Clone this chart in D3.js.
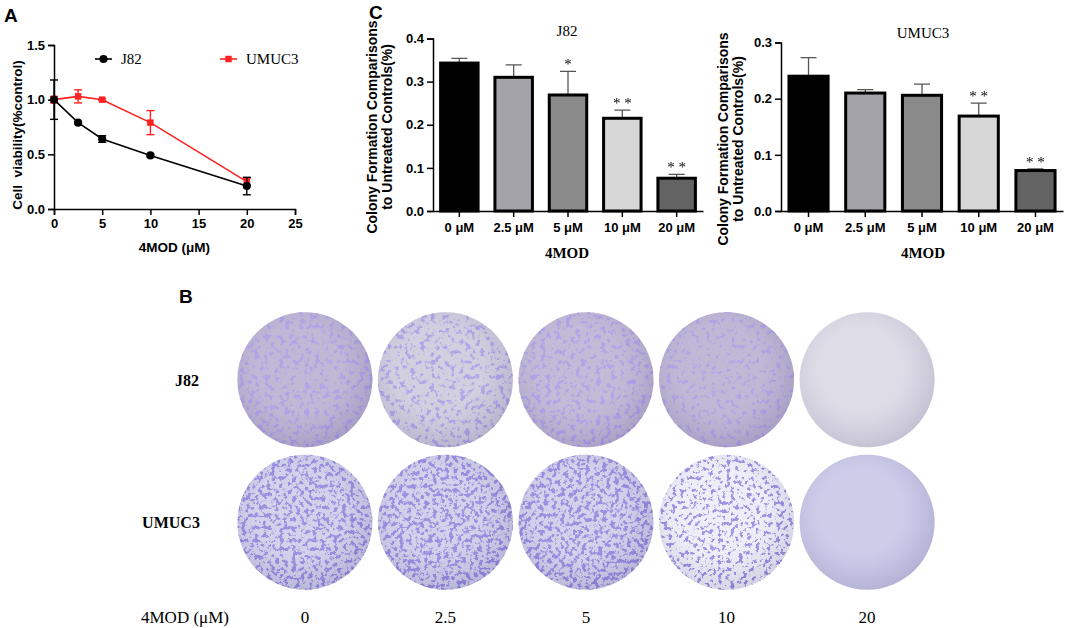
<!DOCTYPE html>
<html lang="en">
  <head>
    <meta charset="UTF-8" />
    <title>4MOD viability and colony formation</title>
    <style>
      body {
        margin: 0;
        background: #fff;
      }
      .sans {
        font-family: "Liberation Sans", Arial, sans-serif;
        font-weight: bold;
      }
      .serif {
        font-family: "Liberation Serif", "Times New Roman", serif;
      }
      .axis path,
      .axis line {
        stroke: #000;
        stroke-width: 1.5;
      }
      .axis text {
        font-family: "Liberation Sans", Arial, sans-serif;
        font-weight: bold;
        font-size: 13px;
        fill: #000;
      }
    </style>
  </head>
  <body>
    <script src="https://d3js.org/d3.v7.min.js"></script>
    <script>
      // panel A : cell viability
      const doseA = [0, 2.5, 5, 10, 20];
      const j82Viab = [1.0, 0.79, 0.64, 0.49, 0.21];
      const j82ViabErr = [0.18, 0.01, 0.03, 0.01, 0.08];
      const umuc3Viab = [1.0, 1.03, 1.0, 0.79, 0.25];
      const umuc3ViabErr = [0.03, 0.06, 0.01, 0.11, 0.03];

      // panel C : colony formation
      const doseC = ["0 μM", "2.5 μM", "5 μM", "10 μM", "20 μM"];
      const j82Colony = [0.343, 0.31, 0.269, 0.215, 0.076];
      const j82ColonyErr = [0.011, 0.029, 0.055, 0.019, 0.009];
      const j82Stars = ["", "", "*", "* *", "* *"];
      const umuc3Colony = [0.24, 0.21, 0.206, 0.169, 0.072];
      const umuc3ColonyErr = [0.033, 0.006, 0.02, 0.023, 0.003];
      const umuc3Stars = ["", "", "", "* *", "* *"];
      const barFill = ["#000000", "#a4a3a9", "#8a8a8a", "#d7d7d7", "#636363"];

      // panel B : plates (estimated colony coverage / background stain)
      const plateDoses = ["0", "2.5", "5", "10", "20"];
      const plateLines = ["J82", "UMUC3"];
      const j82Density = [0.5, 0.45, 0.5, 0.15, 0.0];
      const umuc3Density = [0.75, 0.85, 0.85, 0.45, 0.0];
      const j82Stain = [0.65, 0.3, 0.6, 0.65, 0.1];
      const umuc3Stain = [0.55, 0.55, 0.55, 0.05, 0.65];

      const svg = d3
        .select("body")
        .append("svg")
        .attr("width", 1065)
        .attr("height", 628);

      // panel letters
      svg
        .selectAll(".panel-letter")
        .data([
          ["A", 4, 22],
          ["C", 369, 19],
          ["B", 179, 303],
        ])
        .join("text")
        .attr("class", "sans")
        .attr("font-size", 19)
        .attr("x", (d) => d[1])
        .attr("y", (d) => d[2])
        .text((d) => d[0]);

      // ---------- panel A ----------
      const xA = d3.scaleLinear().domain([0, 25]).range([54, 295]);
      const yA = d3.scaleLinear().domain([0, 1.5]).range([209, 45]);

      const gA = svg.append("g");

      gA.append("g")
        .attr("class", "axis")
        .attr("transform", `translate(0, ${yA(0)})`)
        .call(d3.axisBottom(xA).tickValues([0, 5, 10, 15, 20, 25]).tickSize(6).tickPadding(4));

      gA.append("g")
        .attr("class", "axis")
        .attr("transform", `translate(${xA(0)}, 0)`)
        .call(
          d3
            .axisLeft(yA)
            .tickValues([0, 0.5, 1, 1.5])
            .tickFormat(d3.format(".1f"))
            .tickSize(6)
            .tickPadding(3)
        );

      gA.append("text")
        .attr("class", "sans")
        .attr("font-size", 13.5)
        .attr("text-anchor", "middle")
        .attr("transform", `translate(22, ${(yA(0) + yA(1.5)) / 2 + 8}) rotate(-90)`)
        .attr("xml:space", "preserve")
        .text("Cell  viability(%control)");

      gA.append("text")
        .attr("class", "sans")
        .attr("font-size", 13.5)
        .attr("text-anchor", "middle")
        .attr("x", xA(12.5))
        .attr("y", 252)
        .text("4MOD (μM)");

      const seriesA = [
        { name: "J82", color: "#000", vals: j82Viab, err: j82ViabErr, shape: "circle" },
        { name: "UMUC3", color: "#ff2222", vals: umuc3Viab, err: umuc3ViabErr, shape: "square" },
      ];
      const lineA = d3
        .line()
        .x((d) => xA(d[0]))
        .y((d) => yA(d[1]));
      const symbolOf = (s) =>
        d3.symbol(s.shape === "circle" ? d3.symbolCircle : d3.symbolSquare, s.shape === "circle" ? 52 : 42);

      // draw UMUC3 first so J82 sits on top
      seriesA
        .slice()
        .reverse()
        .forEach((s) => {
          const pts = doseA.map((x, i) => [x, s.vals[i], s.err[i]]);
          const g = gA.append("g");
          g.append("path")
            .attr("d", lineA(pts))
            .attr("fill", "none")
            .attr("stroke", s.color)
            .attr("stroke-width", 1.6);
          const eb = g.selectAll(".eb").data(pts).join("g");
          eb.append("line")
            .attr("x1", (d) => xA(d[0]))
            .attr("x2", (d) => xA(d[0]))
            .attr("y1", (d) => yA(d[1] - d[2]))
            .attr("y2", (d) => yA(d[1] + d[2]))
            .attr("stroke", s.color)
            .attr("stroke-width", 1.4);
          [-1, 1].forEach((sign) =>
            eb
              .append("line")
              .attr("x1", (d) => xA(d[0]) - 4)
              .attr("x2", (d) => xA(d[0]) + 4)
              .attr("y1", (d) => yA(d[1] + sign * d[2]))
              .attr("y2", (d) => yA(d[1] + sign * d[2]))
              .attr("stroke", s.color)
              .attr("stroke-width", 1.4)
          );
          g.selectAll(".pt")
            .data(pts)
            .join("path")
            .attr("d", symbolOf(s))
            .attr("transform", (d) => `translate(${xA(d[0])}, ${yA(d[1])})`)
            .attr("fill", s.color);
        });

      // legend A
      const legA = gA
        .selectAll(".leg")
        .data(seriesA)
        .join("g")
        .attr("transform", (d, i) => `translate(${[95, 220][i]}, 59)`);
      legA.append("line")
        .attr("x1", 0)
        .attr("x2", 17)
        .attr("stroke", (d) => d.color)
        .attr("stroke-width", 1.6);
      legA.append("path")
        .attr("d", (d) => symbolOf(d)())
        .attr("transform", "translate(8.5, 0)")
        .attr("fill", (d) => d.color);
      legA.append("text")
        .attr("class", "serif")
        .attr("font-size", 15)
        .attr("x", 26)
        .attr("dy", "0.35em")
        .text((d) => d.name);

      // ---------- panel C ----------
      function colonyChart(cfg) {
        const g = svg.append("g");
        const x = d3.scaleBand().domain(doseC).range(cfg.xr).paddingInner(0.31).paddingOuter(0.14);
        const y = d3.scaleLinear().domain([0, cfg.ymax]).range([cfg.y0, cfg.ytop]);

        g.append("g")
          .attr("class", "axis")
          .attr("transform", `translate(0, ${y(0)})`)
          .call(d3.axisBottom(x).tickSize(6).tickPadding(6).tickSizeOuter(0));

        g.append("g")
          .attr("class", "axis")
          .attr("transform", `translate(${cfg.xr[0]}, 0)`)
          .call(
            d3
              .axisLeft(y)
              .tickValues(d3.range(0, cfg.ymax + 0.001, 0.1))
              .tickFormat(d3.format(".1f"))
              .tickSize(6)
              .tickPadding(3)
          );

        const data = doseC.map((d, i) => ({ dose: d, v: cfg.vals[i], e: cfg.err[i], star: cfg.stars[i], fill: barFill[i] }));

        g.selectAll(".err")
          .data(data)
          .join("path")
          .attr("d", (d) => {
            const cx = x(d.dose) + x.bandwidth() / 2;
            const yt = y(d.v + d.e);
            return `M${cx},${y(d.v)}V${yt}M${cx - 8},${yt}H${cx + 8}`;
          })
          .attr("fill", "none")
          .attr("stroke", "#555")
          .attr("stroke-width", 1.3);

        g.selectAll(".bar")
          .data(data)
          .join("rect")
          .attr("x", (d) => x(d.dose))
          .attr("y", (d) => y(d.v))
          .attr("width", x.bandwidth())
          .attr("height", (d) => y(0) - y(d.v))
          .attr("fill", (d) => d.fill)
          .attr("stroke", "#000")
          .attr("stroke-width", 3);

        g.selectAll(".star")
          .data(data.filter((d) => d.star))
          .join("text")
          .attr("class", "serif")
          .attr("font-size", 15)
          .attr("fill", "#000")
          .attr("opacity", 0.99)
          .attr("text-anchor", "middle")
          .attr("x", (d) => x(d.dose) + x.bandwidth() / 2)
          .attr("y", (d) => y(d.v + d.e) - 2)
          .attr("xml:space", "preserve")
          .text((d) => d.star);

        g.append("text")
          .attr("class", "serif")
          .attr("font-size", 15)
          .attr("text-anchor", "middle")
          .attr("x", cfg.titleX)
          .attr("y", cfg.titleY)
          .text(cfg.title);

        g.append("text")
          .attr("class", "serif")
          .attr("font-weight", "bold")
          .attr("font-size", 15)
          .attr("text-anchor", "middle")
          .attr("x", cfg.titleX)
          .attr("y", y(0) + 47)
          .text("4MOD");

        const yt = g
          .append("text")
          .attr("class", "sans")
          .attr("font-size", 14)
          .attr("text-anchor", "middle")
          .attr("transform", `translate(${cfg.ylabX}, ${cfg.ylabY}) rotate(-90)`);
        yt.append("tspan").attr("x", 0).attr("y", 0).text("Colony Formation Comparisons");
        yt.append("tspan").attr("x", 0).attr("y", 15).text("to Untreated Controls(%)");
      }

      colonyChart({
        xr: [433, 703],
        y0: 211,
        ytop: 38.5,
        ymax: 0.4,
        vals: j82Colony,
        err: j82ColonyErr,
        stars: j82Stars,
        title: "J82",
        titleX: 567,
        titleY: 36,
        ylabX: 377,
        ylabY: 127,
      });

      colonyChart({
        xr: [781, 1063],
        y0: 211,
        ytop: 42.5,
        ymax: 0.3,
        vals: umuc3Colony,
        err: umuc3ColonyErr,
        stars: umuc3Stars,
        title: "UMUC3",
        titleX: 923,
        titleY: 38,
        ylabX: 728,
        ylabY: 139,
      });

      // ---------- panel B : plates ----------
      const xB = d3.scaleBand().domain(plateDoses).range([236, 936]).paddingInner(0.02);
      const yB = d3.scaleBand().domain(plateLines).range([310, 592]).paddingInner(0.02);
      const plateR = 67.5;

      const bgScale = {
        J82: d3.interpolateRgb("#e0dfe6", "#a298c6"),
        UMUC3: d3.interpolateRgb("#eef0f8", "#b2b0dc"),
      };
      const dotColor = { J82: "#6450cc", UMUC3: "#4234b8" };

      const plates = [];
      plateLines.forEach((ln) => {
        const dens = ln === "J82" ? j82Density : umuc3Density;
        const stain = ln === "J82" ? j82Stain : umuc3Stain;
        plateDoses.forEach((ds, i) => plates.push({ line: ln, dose: ds, dens: dens[i], stain: stain[i], id: `${ln}-${i}` }));
      });

      const defs = svg.append("defs");

      // edge shading for the dishes
      const shade = defs.append("radialGradient").attr("id", "shade").attr("cx", "0.45").attr("cy", "0.42").attr("r", "0.62");
      shade.append("stop").attr("offset", "0.5").attr("stop-color", "#fff").attr("stop-opacity", 0.1);
      shade.append("stop").attr("offset", "1").attr("stop-color", "#3a2c70").attr("stop-opacity", 0.16);

      // speckle texture standing in for the stained colonies
      plates.forEach((p, k) => {
        const f = defs
          .append("filter")
          .attr("id", `spk-${p.id}`)
          .attr("x", 0)
          .attr("y", 0)
          .attr("width", 1)
          .attr("height", 1);
        f.append("feTurbulence")
          .attr("type", "fractalNoise")
          .attr("baseFrequency", p.line === "J82" ? 0.2 : 0.24)
          .attr("numOctaves", 3)
          .attr("seed", k * 7 + 3)
          .attr("result", "noise");
        const cut = 0.6 - 0.12 * p.dens;
        const c = d3.rgb(dotColor[p.line]);
        f.append("feColorMatrix")
          .attr("in", "noise")
          .attr("type", "matrix")
          .attr(
            "values",
            `0 0 0 0 ${c.r / 255} 0 0 0 0 ${c.g / 255} 0 0 0 0 ${c.b / 255} 9 0 0 0 ${-9 * cut}`
          )
          .attr("result", "spots");
        f.append("feComposite").attr("in", "spots").attr("in2", "SourceGraphic").attr("operator", "in");
      });

      const plateG = svg
        .append("g")
        .selectAll("g")
        .data(plates)
        .join("g")
        .attr("transform", (d) => `translate(${xB(d.dose) + xB.bandwidth() / 2}, ${yB(d.line) + yB.bandwidth() / 2})`);

      plateG.append("circle")
        .attr("r", plateR)
        .attr("fill", (d) => bgScale[d.line](d.stain));

      plateG.filter((d) => d.dens > 0)
        .append("circle")
        .attr("r", plateR)
        .attr("fill", "#000")
        .attr("filter", (d) => `url(#spk-${d.id})`)
        .attr("opacity", 0.9);

      plateG.append("circle")
        .attr("r", plateR)
        .attr("fill", "url(#shade)");

      // row labels
      svg
        .selectAll(".row-lab")
        .data(plateLines)
        .join("text")
        .attr("class", "serif")
        .attr("font-weight", "bold")
        .attr("font-size", 16)
        .attr("text-anchor", "middle")
        .attr("x", (d, i) => [187, 171][i])
        .attr("y", (d) => yB(d) + yB.bandwidth() / 2 + 6)
        .text((d) => d);

      // dose labels
      svg
        .selectAll(".dose-lab")
        .data(plateDoses)
        .join("text")
        .attr("class", "serif")
        .attr("font-size", 17)
        .attr("text-anchor", "middle")
        .attr("x", (d) => xB(d) + xB.bandwidth() / 2)
        .attr("y", 623)
        .text((d) => d);

      svg.append("text")
        .attr("class", "serif")
        .attr("font-size", 17)
        .attr("x", 141)
        .attr("y", 623)
        .text("4MOD (μM)");
    </script>
  </body>
</html>
